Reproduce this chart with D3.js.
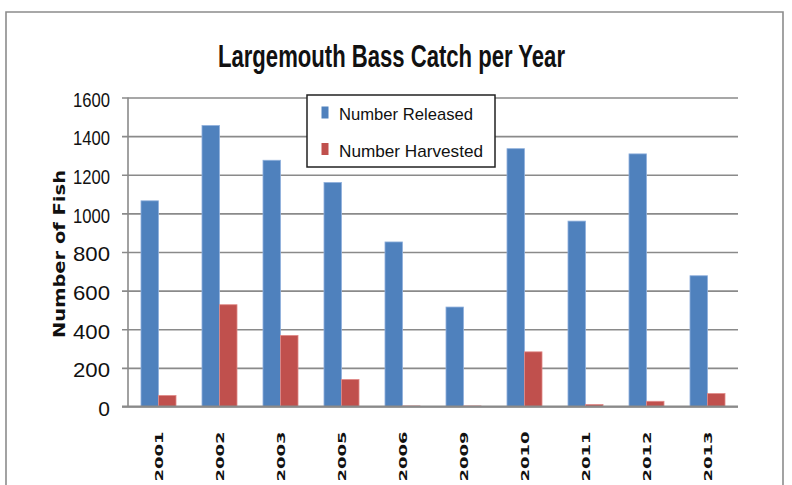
<!DOCTYPE html>
<html>
<head>
<meta charset="utf-8">
<script src="https://cdn.jsdelivr.net/npm/d3@7"></script>
<style>
  html, body { margin: 0; padding: 0; background: #fff; }
  svg { display: block; }
</style>
</head>
<body>
<div id="chart"></div>
<script>
'use strict';

// values
const years = ['2001', '2002', '2003', '2005', '2006', '2009', '2010', '2011', '2012', '2013'];
const released = [1065, 1455, 1275, 1160, 852, 515, 1335, 960, 1308, 677];
const harvested = [57, 527, 368, 140, 3, 3, 283, 10, 27, 67];
const seriesNames = ['Number Released', 'Number Harvested'];
const yTicks = [0, 200, 400, 600, 800, 1000, 1200, 1400, 1600];

const colors = ['#4F81BD', '#C0504D'];
const edges = ['#8fb0dc', '#e08a88'];

const objectAttr = (sel, attrs) => {
  for (const k in attrs) sel.attr(k, attrs[k]);
  return sel;
};

const config = {
  width: 792,
  height: 485,
  plot: { left: 128, right: 738, top: 97.5, bottom: 406.5 },
  grid: '#8a8a8a'
};

const rows = years.map((yr, i) => ({ year: yr, values: [released[i], harvested[i]] }));

const svg = d3.select('#chart').append('svg')
  .attr('width', config.width)
  .attr('height', config.height);

// outer chart frame (bottom edge is cut off in the picture)
svg.append('path')
  .attr('d', 'M6,485 V12 H783 V485')
  .attr('fill', 'none')
  .attr('stroke', '#8c8c8c')
  .attr('stroke-width', 1.6);

const pLeft = config.plot.left, pRight = config.plot.right;
const pTop = config.plot.top, pBottom = config.plot.bottom;

const x = d3.scaleBand()
  .domain(years)
  .range([pLeft, pRight])
  .paddingInner(0.426)
  .paddingOuter(0.213);

const xs = d3.scaleBand()
  .domain(d3.range(seriesNames.length))
  .range([0, x.bandwidth()]);

const y = d3.scaleLinear()
  .domain([0, 1600])
  .range([pBottom, pTop]);

// gridlines + y axis
const yAxis = d3.axisLeft(y)
  .tickValues(yTicks)
  .tickSize(-(pRight - pLeft))
  .tickPadding(18)
  .tickFormat(d3.format('d'));

const gy = svg.append('g')
  .attr('transform', `translate(${pLeft},0)`)
  .call(yAxis);
gy.select('.domain').remove();
gy.selectAll('.tick line')
  .attr('x1', -6)
  .attr('stroke', config.grid)
  .attr('stroke-width', 1.6);
gy.selectAll('.tick text')
  .attr('x', -18)
  .attr('dy', '0.42em')
  .attr('fill', '#111')
  .attr('font-family', 'Liberation Sans, Arial, sans-serif')
  .attr('font-size', 21)
  .attr('textLength', 37)
  .attr('lengthAdjust', 'spacingAndGlyphs');
// "0" should not be stretched
gy.selectAll('.tick text').filter(d => d === 0)
  .attr('textLength', null);

// y axis line
svg.append('line')
  .call(objectAttr, { x1: pLeft, x2: pLeft, y1: pTop, y2: pBottom, stroke: config.grid, 'stroke-width': 1.6 });

// bars
const groups = svg.append('g').selectAll('g')
  .data(rows)
  .join('g')
  .attr('transform', d => `translate(${x(d.year)},0)`);

groups.selectAll('rect')
  .data(d => d.values.map((v, i) => ({ v, i })))
  .join('rect')
  .attr('x', d => xs(d.i))
  .attr('width', xs.bandwidth())
  .attr('y', d => y(d.v))
  .attr('height', d => y(0) - y(d.v))
  .attr('fill', d => colors[d.i])
  .attr('stroke', d => edges[d.i])
  .attr('stroke-width', 0.8);

// x axis baseline
svg.append('line')
  .call(objectAttr, { x1: pLeft - 6, x2: pRight, y1: pBottom, y2: pBottom, stroke: config.grid, 'stroke-width': 1.8 });

// category labels, rotated
svg.append('g').selectAll('text')
  .data(years)
  .join('text')
  .attr('transform', d => `translate(${x(d) + x.bandwidth() / 2 + 4},481.5) rotate(-90)`)
  .attr('font-family', 'DejaVu Sans, Verdana, sans-serif')
  .attr('font-size', 11)
  .attr('font-weight', 'bold')
  .attr('fill', '#111')
  .attr('textLength', 50)
  .attr('lengthAdjust', 'spacingAndGlyphs')
  .text(d => d);

// title
svg.append('text')
  .call(objectAttr, {
    x: 391.5, y: 67, 'text-anchor': 'middle',
    'font-family': 'Liberation Sans Narrow, Liberation Sans, Arial, sans-serif',
    'font-size': 32, 'font-weight': 'bold', fill: '#111',
    textLength: 347, lengthAdjust: 'spacingAndGlyphs'
  })
  .text('Largemouth Bass Catch per Year');

// y axis title
svg.append('text')
  .call(objectAttr, {
    transform: 'translate(64.5,254) rotate(-90)', 'text-anchor': 'middle',
    'font-family': 'DejaVu Sans, Verdana, sans-serif',
    'font-size': 16.5, 'font-weight': 'bold', fill: '#111',
    textLength: 168, lengthAdjust: 'spacingAndGlyphs'
  })
  .text('Number of Fish');

// legend
const legend = svg.append('g');
legend.append('rect')
  .call(objectAttr, { x: 307, y: 95, width: 188, height: 72, fill: '#fff', stroke: '#222', 'stroke-width': 1.5 });

const legendLengths = [134, 144];
const items = legend.selectAll('g')
  .data(seriesNames)
  .join('g')
  .attr('transform', (d, i) => `translate(0,${i * 36.5})`);
items.append('rect')
  .call(objectAttr, { x: 321.5, y: 106.5, width: 7, height: 12, fill: (d, i) => colors[i] });
items.append('text')
  .call(objectAttr, {
    x: 339, y: 120,
    'font-family': 'Liberation Sans, Arial, sans-serif',
    'font-size': 17, fill: '#111',
    textLength: (d, i) => legendLengths[i], lengthAdjust: 'spacingAndGlyphs'
  })
  .text(d => d);
</script>
</body>
</html>
